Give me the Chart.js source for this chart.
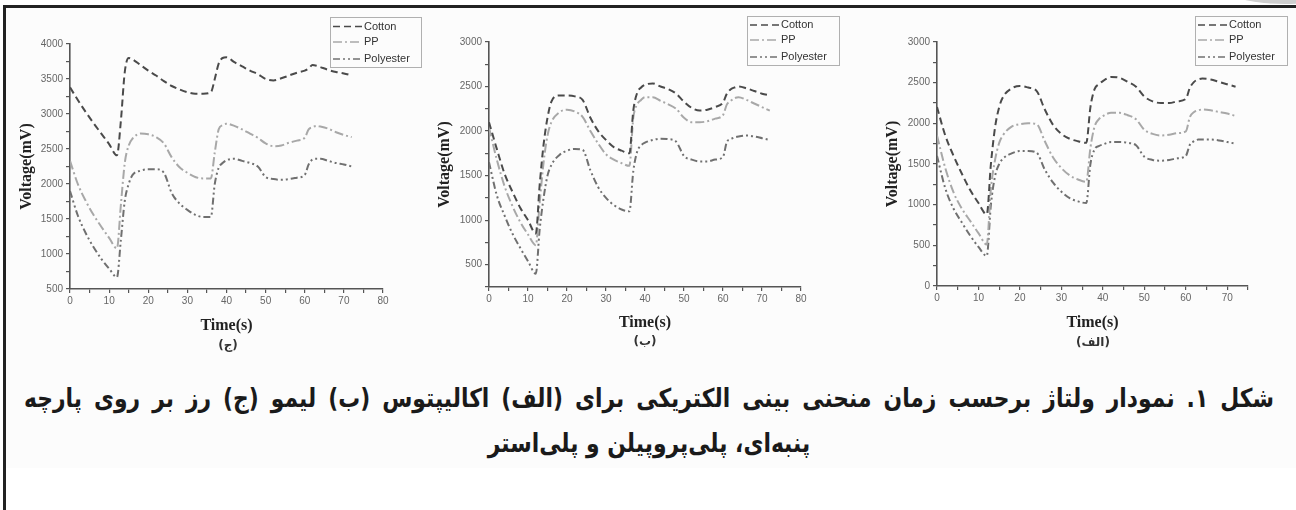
<!DOCTYPE html>
<html>
<head>
<meta charset="utf-8">
<script src="https://cdn.jsdelivr.net/npm/chart.js@4.4.0/dist/chart.umd.min.js"></script>
<style>
  body { margin: 0; background: #fff; }
  #page { position: relative; width: 1296px; height: 510px; overflow: hidden; background: #fff; }
  #frame { position: absolute; left: 3px; top: 5px; width: 1300px; height: 520px;
           border-left: 3px solid #222; border-top: 3px solid #222; }
  #swoosh { position: absolute; left: 1230px; top: -22px; width: 110px; height: 26px;
            border-radius: 50%; background: #cfcfcf; }
  #paper { position: absolute; left: 6px; top: 8px; width: 1290px; height: 460px; background: #fcfcfc; }
  canvas { position: absolute; top: 8px; }
  .sub { position: absolute; font: bold 12px "DejaVu Sans", sans-serif; color: #333;
         direction: rtl; transform: translate(-50%, -50%); }
  .cap { position: absolute; left: 24px; width: 1488px; direction: rtl; color: #1a1a1a;
         font: bold 26px/30px "DejaVu Sans", sans-serif; white-space: nowrap;
         transform: scaleX(0.84); transform-origin: left top; }
  #cap1 { top: 383px; text-align: justify; text-align-last: justify; }
  #cap2 { top: 428px; text-align: center; }
</style>
</head>
<body>
<div id="page">
  <div id="paper"></div>
  <div id="swoosh"></div>
  <div id="frame"></div>
  <canvas id="chartC" width="420" height="345" style="left:8px"></canvas>
  <canvas id="chartB" width="420" height="345" style="left:430px"></canvas>
  <canvas id="chartA" width="420" height="345" style="left:870px"></canvas>
  <div class="sub" style="left:228px; top:345px">(ج)</div>
  <div class="sub" style="left:645px; top:341px">(ب)</div>
  <div class="sub" style="left:1093px; top:342px">(الف)</div>
  <div class="cap" id="cap1">شکل ۱. نمودار ولتاژ برحسب زمان منحنی بینی الکتریکی برای (الف) اکالیپتوس (ب) لیمو (ج) رز بر روی پارچه</div>
  <div class="cap" id="cap2">پنبه‌ای، پلی‌پروپیلن و پلی‌استر</div>
</div>
<script>
// sample times (s), shared by all three panels
const times = [0, 2, 4, 6, 8, 10, 12, 13, 14, 15, 16, 18, 20, 22, 24, 26, 28, 30, 32, 34, 36,
  37, 38, 39, 40, 42, 44, 46, 48, 50, 52, 54, 56, 58, 60, 61, 62, 63, 64, 66, 68, 70, 72];

// panel (ج) rose
const roseCotton = [3380, 3200, 3030, 2870, 2720, 2570, 2410, 2900, 3600, 3800, 3780, 3700, 3620, 3550, 3470, 3400, 3350, 3310, 3290, 3290, 3310,
  3500, 3720, 3800, 3810, 3740, 3680, 3620, 3570, 3500, 3480, 3510, 3550, 3590, 3620, 3650, 3700, 3690, 3670, 3630, 3600, 3580, 3550];
const rosePP = [2330, 2000, 1760, 1560, 1390, 1230, 1080, 1700, 2300, 2550, 2650, 2720, 2710, 2670, 2580, 2380, 2240, 2160, 2100, 2080, 2080,
  2450, 2780, 2840, 2860, 2830, 2780, 2720, 2660, 2580, 2540, 2550, 2590, 2620, 2660, 2780, 2810, 2830, 2820, 2790, 2740, 2700, 2670];
const rosePolyester = [1900, 1550, 1300, 1100, 930, 790, 670, 1200, 1760, 2000, 2130, 2190, 2210, 2210, 2160, 1870, 1720, 1630, 1560, 1530, 1530,
  2000, 2230, 2300, 2340, 2360, 2330, 2300, 2250, 2100, 2070, 2060, 2070, 2090, 2130, 2280, 2350, 2360, 2360, 2330, 2300, 2280, 2250];

// panel (ب) lemon
const lemonCotton = [2100, 1800, 1520, 1320, 1140, 1000, 850, 1400, 1850, 2150, 2330, 2400, 2400, 2390, 2350, 2150, 2000, 1900, 1820, 1780, 1750,
  2230, 2430, 2490, 2520, 2535, 2500, 2470, 2420, 2330, 2260, 2230, 2240, 2270, 2320, 2420, 2470, 2490, 2500, 2480, 2450, 2420, 2400];
const lemonPP = [2040, 1680, 1380, 1160, 980, 840, 720, 1200, 1650, 1950, 2100, 2210, 2240, 2220, 2160, 2000, 1860, 1740, 1680, 1640, 1610,
  2150, 2300, 2350, 2380, 2380, 2340, 2300, 2250, 2150, 2100, 2100, 2110, 2140, 2180, 2300, 2340, 2370, 2380, 2350, 2310, 2270, 2230];
const lemonPolyester = [1650, 1280, 1050, 850, 690, 540, 400, 900, 1250, 1500, 1620, 1730, 1780, 1800, 1790, 1560, 1370, 1250, 1170, 1120, 1100,
  1550, 1770, 1840, 1870, 1900, 1915, 1910, 1880, 1720, 1680, 1660, 1660, 1680, 1710, 1880, 1910, 1930, 1940, 1950, 1940, 1920, 1900];

// panel (الف) eucalyptus
const eucCotton = [2200, 1850, 1600, 1380, 1180, 1020, 880, 1500, 1950, 2200, 2330, 2430, 2460, 2440, 2400, 2170, 1980, 1870, 1810, 1780, 1760,
  2200, 2420, 2480, 2520, 2570, 2560, 2510, 2450, 2330, 2270, 2250, 2250, 2270, 2300, 2440, 2510, 2540, 2550, 2540, 2510, 2480, 2450];
const eucPP = [1850, 1450, 1150, 950, 800, 650, 510, 1200, 1550, 1760, 1860, 1960, 1990, 2000, 1990, 1780, 1580, 1450, 1360, 1310, 1280,
  1700, 1960, 2050, 2090, 2130, 2130, 2100, 2050, 1920, 1870, 1850, 1860, 1880, 1900, 2080, 2140, 2160, 2170, 2160, 2140, 2120, 2090];
const eucPolyester = [1600, 1200, 950, 780, 620, 480, 370, 1000, 1350, 1500, 1570, 1630, 1660, 1660, 1640, 1430, 1270, 1160, 1080, 1040, 1020,
  1500, 1680, 1720, 1740, 1770, 1770, 1760, 1730, 1590, 1550, 1540, 1550, 1570, 1600, 1740, 1780, 1800, 1800, 1800, 1790, 1770, 1750];

const seriesLabels = ["Cotton", "PP", "Polyester"];

// legend drawn as a framed box like the Origin plots
const boxLegend = {
  id: "boxLegend",
  afterDraw(chart, args, opts) {
    const ctx = chart.ctx;
    ctx.save();
    ctx.strokeStyle = "#b0b0b0";
    ctx.lineWidth = 1;
    ctx.strokeRect(opts.x + 0.5, opts.y + 0.5, opts.w, opts.h);
    ctx.font = '11px "Liberation Sans", Arial, sans-serif';
    ctx.textBaseline = "middle";
    chart.data.datasets.forEach((ds, i) => {
      const cy = opts.y + opts.rows[i];
      ctx.strokeStyle = ds.borderColor;
      ctx.lineWidth = 1.5;
      ctx.setLineDash(ds.borderDash || []);
      ctx.beginPath();
      ctx.moveTo(opts.x + 3, cy);
      ctx.lineTo(opts.x + 32, cy);
      ctx.stroke();
      ctx.setLineDash([]);
      ctx.fillStyle = "#333";
      ctx.fillText(ds.label, opts.x + 34, cy);
    });
    ctx.restore();
  },
};

function toPoints(values) {
  return values.map((v, i) => ({ x: times[i], y: v }));
}

function makeChart(id, values, cfg) {
  const styles = [
    { color: "#4a4a4a", dash: [7, 4] },
    { color: "#a8a8a8", dash: [9, 3, 2, 3] },
    { color: "#707070", dash: [7, 3, 2, 3, 2, 3] },
  ];
  const datasets = values.map((v, i) => ({
    label: seriesLabels[i],
    data: toPoints(v),
    borderColor: styles[i].color,
    borderDash: styles[i].dash,
    borderWidth: 2,
    pointRadius: 0,
    cubicInterpolationMode: "monotone",
    fill: false,
  }));

  const axisColor = "#555";
  const tickFont = { family: '"Liberation Sans", Arial, sans-serif', size: 10 };
  const titleFont = { family: '"Liberation Serif", "Times New Roman", serif', size: 16, weight: "bold" };

  new Chart(document.getElementById(id), {
    type: "line",
    data: { datasets },
    plugins: [boxLegend],
    options: {
      responsive: false,
      animation: false,
      layout: { padding: { left: 0, top: cfg.top, right: cfg.right, bottom: 0 } },
      scales: {
        x: {
          type: "linear",
          min: 0,
          max: cfg.xMax,
          afterFit: (scale) => { scale.height = cfg.xHeight; },
          ticks: {
            stepSize: 5,
            color: "#666",
            font: tickFont,
            padding: 2,
            maxRotation: 0,
            callback: (v) => (v % 10 === 0 ? v : ""),
          },
          grid: { drawOnChartArea: false, drawTicks: true, tickLength: 4, color: axisColor, lineWidth: 1.2 },
          border: { display: true, color: axisColor, width: 1.6 },
          title: { display: true, text: "Time(s)", color: "#222", font: titleFont, padding: { top: 2, bottom: cfg.xTitlePad } },
        },
        y: {
          min: cfg.yMin,
          max: cfg.yMax,
          afterFit: (scale) => { scale.width = cfg.yWidth; },
          ticks: {
            stepSize: 250,
            color: "#666",
            font: tickFont,
            padding: 3,
            callback: (v) => (v % 500 === 0 ? v : ""),
          },
          grid: { drawOnChartArea: false, drawTicks: true, tickLength: 4, color: axisColor, lineWidth: 1.2 },
          border: { display: true, color: axisColor, width: 1.6 },
          title: { display: true, text: "Voltage(mV)", color: "#222", font: titleFont, padding: { top: cfg.yTitlePad, bottom: 0 } },
        },
      },
      plugins: {
        legend: { display: false },
        tooltip: { enabled: false },
        boxLegend: cfg.legend,
      },
    },
  });
}

makeChart("chartC", [roseCotton, rosePP, rosePolyester], {
  xMax: 80, yMin: 500, yMax: 4000,
  top: 36, right: 45, yWidth: 62, xHeight: 64, xTitlePad: 18, yTitlePad: 9,
  legend: { x: 322, y: 9, w: 91, h: 50, rows: [9.5, 25, 42] },
});

makeChart("chartB", [lemonCotton, lemonPP, lemonPolyester], {
  xMax: 80, yMin: 250, yMax: 3000,
  top: 34, right: 49, yWidth: 59, xHeight: 66, xTitlePad: 21, yTitlePad: 5,
  legend: { x: 317, y: 8, w: 92, h: 49, rows: [9, 24, 41] },
});

makeChart("chartA", [eucCotton, eucPP, eucPolyester], {
  xMax: 75, yMin: 0, yMax: 3000,
  top: 34, right: 42, yWidth: 67, xHeight: 67, xTitlePad: 21, yTitlePad: 13,
  legend: { x: 325, y: 8, w: 92, h: 49, rows: [9, 24, 41] },
});
</script>
</body>
</html>
